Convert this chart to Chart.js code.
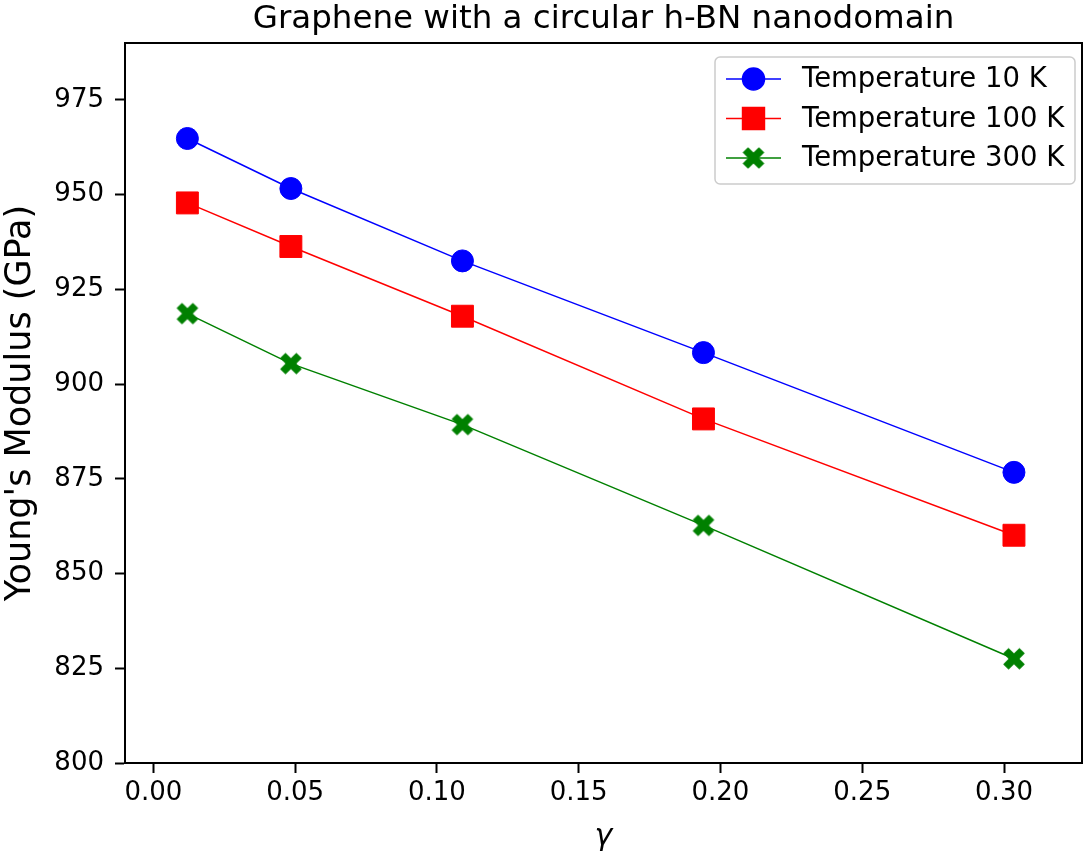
<!DOCTYPE html>
<html>
<head>
<meta charset="utf-8">
<script src="https://cdn.jsdelivr.net/npm/chart.js@4.4.0/dist/chart.umd.min.js"></script>
<style>
  body { margin: 0; background: #fff; }
  #wrap { width: 1083px; height: 855px; }
</style>
</head>
<body>
<div id="wrap"><canvas id="chart" width="1083" height="855"></canvas></div>
<script>
// values
const gamma = [0.012, 0.0485, 0.109, 0.194, 0.3035];
const temp10 = [964.8, 951.6, 932.5, 908.3, 876.7];
const temp100 = [947.8, 936.3, 917.9, 890.8, 860.1];
const temp300 = [918.6, 905.4, 889.3, 862.7, 827.5];
const seriesLabels = ['Temperature 10 K', 'Temperature 100 K', 'Temperature 300 K'];
const xTicks = [0.00, 0.05, 0.10, 0.15, 0.20, 0.25, 0.30];
const yTicks = [800, 825, 850, 875, 900, 925, 950, 975];

const FONT = "'DejaVu Sans', sans-serif";

// filled "X" marker like matplotlib's
const makeX = (colour) => {
  const c = document.createElement('canvas');
  c.width = 26; c.height = 26;
  const ctx = c.getContext('2d');
  const s = 23 / 6;
  const pts = [[-1,-3],[1,-3],[1,-1],[3,-1],[3,1],[1,1],[1,3],[-1,3],[-1,1],[-3,1],[-3,-1],[-1,-1]];
  ctx.translate(13, 13);
  ctx.rotate(Math.PI / 4);
  ctx.beginPath();
  pts.forEach((p, i) => i ? ctx.lineTo(p[0]*s, p[1]*s) : ctx.moveTo(p[0]*s, p[1]*s));
  ctx.closePath();
  ctx.fillStyle = colour;
  ctx.fill();
  return c;
}
const greenX = makeX('#008000');

const toPoints = (ys) => gamma.map((g, i) => ({ x: g, y: ys[i] }));

const series = [
  { label: seriesLabels[0], data: toPoints(temp10), colour: '#0000ff', style: 'circle', radius: 11 },
  { label: seriesLabels[1], data: toPoints(temp100), colour: '#ff0000', style: 'rect', radius: 15.5 },
  { label: seriesLabels[2], data: toPoints(temp300), colour: '#008000', style: greenX, radius: 11 }
];

// top + right spines and the boxed legend
const framePlugin = {
  id: 'frame',
  afterDraw(chart) {
    const ctx = chart.ctx;
    const a = chart.chartArea;
    ctx.save();
    ctx.strokeStyle = '#000';
    ctx.lineWidth = 2;
    ctx.beginPath();
    ctx.moveTo(a.left, a.top);
    ctx.lineTo(a.right, a.top);
    ctx.lineTo(a.right, a.bottom);
    ctx.stroke();

    // legend
    const lx = a.right - 367, ly = a.top + 14, lw = 360, lh = 127;
    ctx.beginPath();
    ctx.roundRect(lx, ly, lw, lh, 5);
    ctx.fillStyle = 'rgba(255,255,255,0.8)';
    ctx.fill();
    ctx.strokeStyle = '#cccccc';
    ctx.lineWidth = 1.5;
    ctx.stroke();

    series.forEach((s, i) => {
      const y = ly + 22 + i * 39.5;
      ctx.strokeStyle = s.colour;
      ctx.lineWidth = 1.5;
      ctx.beginPath();
      ctx.moveTo(lx + 11, y);
      ctx.lineTo(lx + 66, y);
      ctx.stroke();
      ctx.fillStyle = s.colour;
      Chart.helpers.drawPoint(ctx, { pointStyle: s.style, radius: s.radius, rotation: 0, borderWidth: 1 }, lx + 38.5, y);
      ctx.fillStyle = '#000';
      ctx.font = '27.5px ' + FONT;
      ctx.textBaseline = 'middle';
      ctx.textAlign = 'left';
      ctx.fillText(s.label, lx + 87, y + 1);
    });
    ctx.restore();
  }
};

new Chart(document.getElementById('chart'), {
  type: 'scatter',
  data: {
    datasets: series.map(s => ({
      label: s.label,
      data: s.data,
      showLine: true,
      borderColor: s.colour,
      backgroundColor: s.colour,
      borderWidth: 1.5,
      pointStyle: s.style,
      pointRadius: s.radius,
      pointHoverRadius: s.radius,
      pointBorderWidth: 1,
      pointBackgroundColor: s.colour,
      pointBorderColor: s.colour
    }))
  },
  options: {
    responsive: false,
    animation: false,
    layout: { autoPadding: false, padding: { left: 0, right: 1, top: 0, bottom: 0 } },
    plugins: {
      legend: { display: false },
      tooltip: { enabled: false },
      title: {
        display: true,
        text: 'Graphene with a circular h-BN nanodomain',
        fullSize: false,
        color: '#000',
        font: { family: FONT, size: 32.5, weight: 'normal' },
        padding: { top: 0, bottom: 4 }
      }
    },
    scales: {
      x: {
        type: 'linear',
        min: -0.01,
        max: 0.3275,
        afterBuildTicks: (scale) => { scale.ticks = xTicks.map(v => ({ value: v })); },
        afterFit: (scale) => { scale.height = 92; scale.paddingLeft = 0; scale.paddingRight = 0; },
        border: { display: true, color: '#000', width: 2 },
        grid: { drawOnChartArea: false, drawTicks: true, tickLength: 10, tickColor: '#000', tickWidth: 2 },
        ticks: {
          color: '#000',
          padding: 5,
          font: { family: FONT, size: 26 },
          maxRotation: 0,
          callback: (v) => v.toFixed(2)
        },
        title: {
          display: true,
          text: 'γ',
          color: '#000',
          font: { family: FONT, size: 30, style: 'italic' },
          padding: { top: 0, bottom: 0 }
        }
      },
      y: {
        type: 'linear',
        min: 800,
        max: 990,
        afterBuildTicks: (scale) => { scale.ticks = yTicks.map(v => ({ value: v })); },
        afterFit: (scale) => { scale.width = 125; scale.paddingTop = 0; scale.paddingBottom = 0; },
        border: { display: true, color: '#000', width: 2 },
        grid: { drawOnChartArea: false, drawTicks: true, tickLength: 10, tickColor: '#000', tickWidth: 2 },
        ticks: {
          color: '#000',
          padding: 11,
          font: { family: FONT, size: 26 },
          callback: (v) => String(v)
        },
        title: {
          display: true,
          text: "Young's Modulus (GPa)",
          color: '#000',
          font: { family: FONT, size: 35 },
          padding: { top: 0, bottom: 0 }
        }
      }
    }
  },
  plugins: [framePlugin]
});
</script>
</body>
</html>
